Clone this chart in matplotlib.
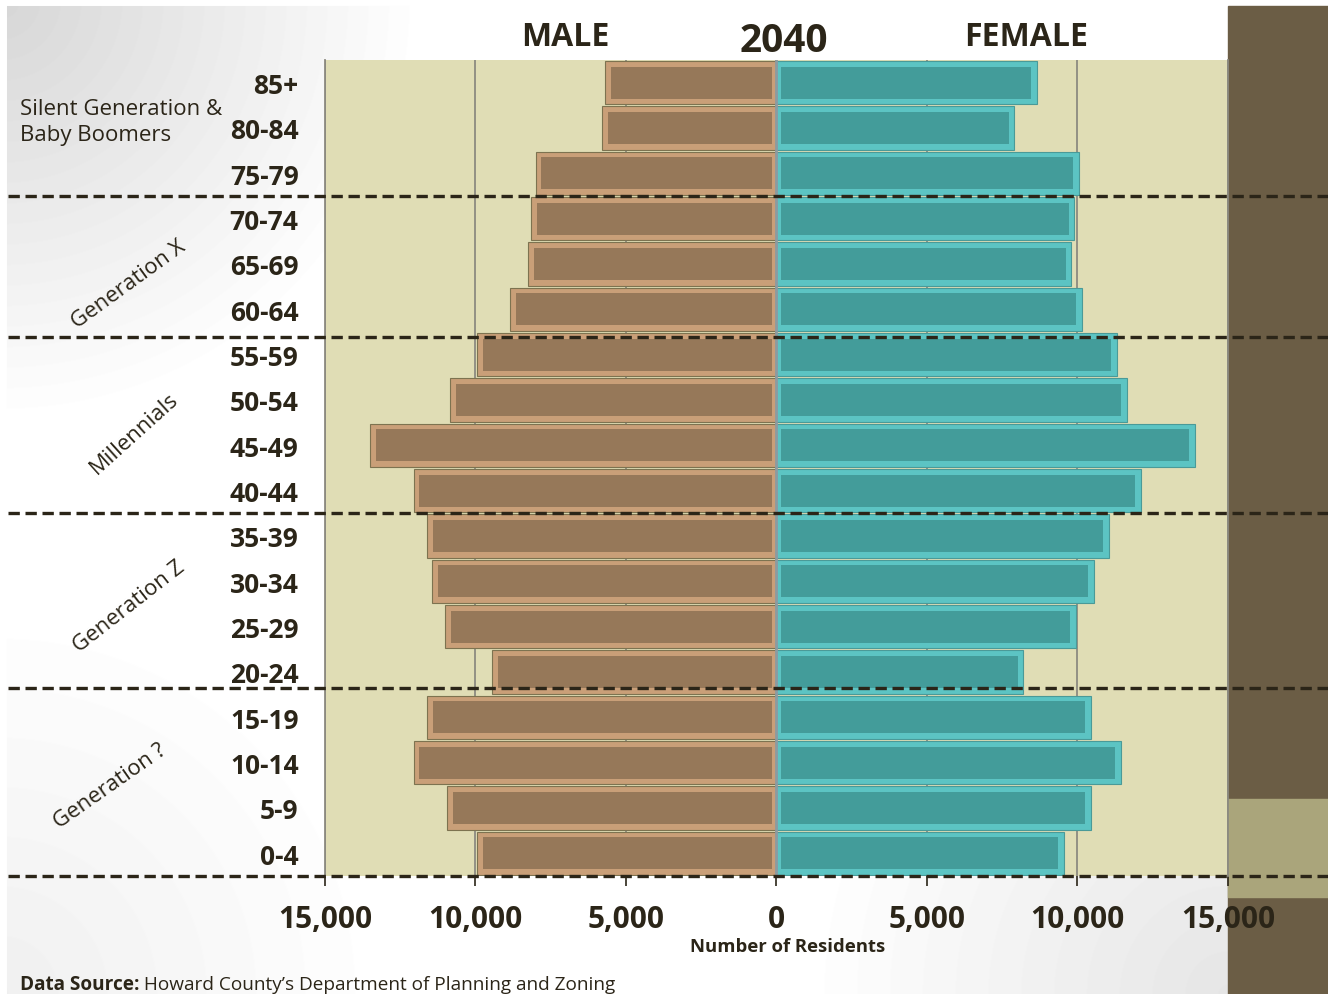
import matplotlib.pyplot as plt
import numpy as np
from matplotlib.patches import Rectangle
from matplotlib.transforms import blended_transform_factory


AGE_GROUPS = ["0-4", "5-9", "10-14", "15-19", "20-24", "25-29", "30-34", "35-39",
              "40-44", "45-49", "50-54", "55-59", "60-64", "65-69", "70-74",
              "75-79", "80-84", "85+"]
MALE = [9950, 10950, 12050, 11600, 9450, 11000, 11450, 11600,
        12050, 13500, 10850, 9950, 8850, 8250, 8150, 8000, 5800, 5700]
FEMALE = [9550, 10450, 11450, 10450, 8200, 9950, 10550, 11050,
          12100, 13900, 11650, 11300, 10150, 9800, 9900, 10050, 7900, 8650]
X_TICKS = [-15000, -10000, -5000, 0, 5000, 10000, 15000]
X_TICK_LABELS = ["15,000", "10,000", "5,000", "0", "5,000", "10,000", "15,000"]
GENERATION_BREAKS = [14.5, 11.4, 7.5, 3.65, -0.5]
GENERATION_LABELS = [
    ("Silent Generation &\nBaby Boomers", 0.015, 0.877, 0),
    ("Generation X", 0.097, 0.714, 36),
    ("Millennials", 0.101, 0.564, 42),
    ("Generation Z", 0.097, 0.390, 38),
    ("Generation ?", 0.083, 0.209, 35),
]

DARK = "#2b2518"
FONT = ["Open Sans", "DejaVu Sans"]

plt.rcParams["font.family"] = FONT

fig = plt.figure(figsize=(13.28, 9.95), dpi=100)

# soft grey backdrop like the slide
bg = fig.add_axes([0, 0, 1, 1], zorder=-10)
yy, xx = np.mgrid[0:995, 0:1328]
d1 = np.hypot(xx - 0, yy - 0) / 420.0
d2 = np.hypot(xx - 0, yy - 995) / 380.0
d3 = np.hypot(xx - 1228, yy - 995) / 420.0
shade = 0.16 * np.clip(1 - d1, 0, 1) + 0.06 * np.clip(1 - d2, 0, 1) + 0.10 * np.clip(1 - d3, 0, 1)
img = 1 - shade
img[:7, :] = 1
img[:, :7] = 1
bg.imshow(img, cmap="gray", vmin=0, vmax=1, aspect="auto", extent=[0, 1, 0, 1])
bg.set_xlim(0, 1)
bg.set_ylim(0, 1)
bg.axis("off")

# right decorative strip
fig.patches.append(Rectangle((0.9247, 0), 0.0753, 0.993, transform=fig.transFigure,
                             color="#6b5d45", zorder=-5))
fig.patches.append(Rectangle((0.9247, 0.097), 0.0753, 0.099, transform=fig.transFigure,
                             color="#aaa57b", zorder=-4))

ax = fig.add_axes([0.2447, 0.1186, 0.680, 0.8201])
ax.set_facecolor("#e0ddb5")

y = np.arange(len(AGE_GROUPS))
male = -np.array(MALE)
female = np.array(FEMALE)

# bevelled bars: light frame plus a darker inset face
bar_h = 0.96
inner_h = 0.70
inset_in = 150
inset_out = 190

ax.barh(y, male, height=bar_h, color="#c99f78", edgecolor="#7d7350", linewidth=0.8, zorder=3)
ax.barh(y, male + inset_in + inset_out, height=inner_h, left=-inset_in,
        color="#967859", linewidth=0, zorder=4)
ax.barh(y, female, height=bar_h, color="#5cc4c3", edgecolor="#4a9a98", linewidth=0.8, zorder=3)
ax.barh(y, female - inset_in - inset_out, height=inner_h, left=inset_in,
        color="#439c9a", linewidth=0, zorder=4)

ax.set_xlim(-15000, 15000)
ax.set_ylim(-0.5, len(AGE_GROUPS) - 0.5)
ax.set_xticks(X_TICKS)
ax.set_xticklabels(X_TICK_LABELS, fontsize=21.5, fontweight="bold", color=DARK)
ax.set_yticks(y)
ax.set_yticklabels(AGE_GROUPS, fontsize=19, fontweight="bold", color=DARK)
ax.tick_params(axis="y", length=0, pad=19)
ax.tick_params(axis="x", length=7, width=1.2, color=DARK, pad=13, direction="out")
ax.xaxis.grid(True, color="#8c8a80", linewidth=1.3, zorder=1)
ax.set_axisbelow(True)
ax.axvline(0, color="#8d9aa0", linewidth=2, zorder=5)
for side in ["left", "right"]:
    ax.spines[side].set_color("#8c8a80")
    ax.spines[side].set_linewidth(1.3)
ax.spines["top"].set_visible(False)
ax.spines["bottom"].set_visible(False)
ax.set_xlabel("Number of Residents", fontsize=13.3, fontweight="bold", color=DARK)
ax.xaxis.set_label_coords(0.512, -0.086)
ax.xaxis.label.set_va("center")

# generation break lines across the whole slide
trans = blended_transform_factory(fig.transFigure, ax.transData)
for yb in GENERATION_BREAKS:
    ax.plot([0.006, 1.0], [yb, yb], transform=trans, color=DARK, linewidth=2.4,
            linestyle=(0, (3.4, 1.7)), clip_on=False, zorder=6)

for text, fx, fy, rot in GENERATION_LABELS:
    ha = "left" if rot == 0 else "center"
    fig.text(fx, fy, text, fontsize=16, color=DARK, rotation=rot, ha=ha, va="center",
             linespacing=1.3, rotation_mode="anchor")

fig.text(0.426, 0.962, "MALE", fontsize=23, fontweight="bold", color=DARK, ha="center", va="center")
fig.text(0.590, 0.958, "2040", fontsize=28, fontweight="bold", color=DARK, ha="center", va="center")
fig.text(0.773, 0.962, "FEMALE", fontsize=23, fontweight="bold", color=DARK, ha="center", va="center")

src = fig.text(0.015, 0.0105, "Data Source:", fontsize=13.7, fontweight="bold", color=DARK,
               ha="left", va="center")
ax.annotate(" Howard County\u2019s Department of Planning and Zoning", xy=(1, 0.5),
            xycoords=src, fontsize=13.7, color=DARK, ha="left", va="center",
            annotation_clip=False)

fig.savefig("out.png", dpi=100)
